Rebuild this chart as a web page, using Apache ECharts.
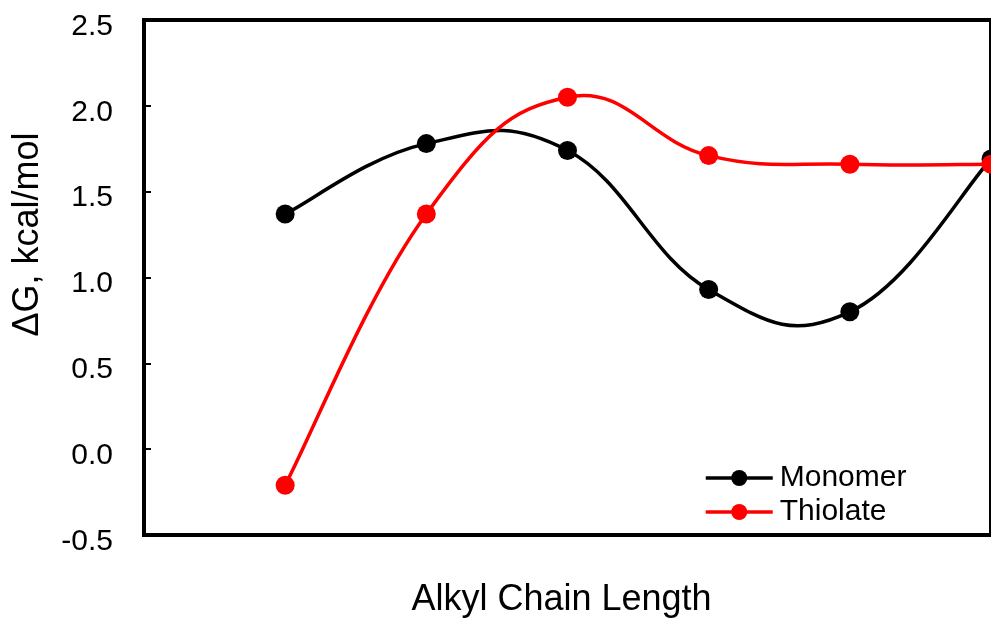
<!DOCTYPE html>
<html><head><meta charset="utf-8">
<script src="https://cdn.jsdelivr.net/npm/echarts@6/dist/echarts.min.js"></script>
<style>html,body{margin:0;padding:0;background:#fff;overflow:hidden}#c{width:991px;height:623px}</style>
</head><body><div id="c"></div>
<script>
const positions = [1, 2, 3, 4, 5, 6];
const monomer = [1.37, 1.78, 1.74, 0.93, 0.80, 1.69];
const thiolate = [-0.21, 1.37, 2.05, 1.71, 1.66, 1.66];
const yTicks = [-0.5, 0.0, 0.5, 1.0, 1.5, 2.0, 2.5];
const seriesNames = ['Monomer', 'Thiolate'];
const font = 'Liberation Sans, Arial, sans-serif';
const BLACK = '#000000', RED = '#ff0000';
const TENSION = 0.21;

function pairs(ys){ return positions.map((x,i)=>[x, ys[i]]); }

// smooth (Catmull-Rom style) curve drawn through the data points, via the axes' coordinate system
function curveSeries(values, color){
  return {
    type: 'custom', silent: true, z: 2,
    data: pairs(values),
    renderItem: function(params, api){
      const i = params.dataIndex, n = values.length;
      if (i >= n - 1) return null;
      const P = j => api.coord([positions[Math.max(0, Math.min(n-1, j))], values[Math.max(0, Math.min(n-1, j))]]);
      const p0 = P(i-1), p1 = P(i), p2 = P(i+1), p3 = P(i+2);
      return {
        type: 'bezierCurve',
        shape: {
          x1: p1[0], y1: p1[1], x2: p2[0], y2: p2[1],
          cpx1: p1[0] + (p2[0]-p0[0])*TENSION, cpy1: p1[1] + (p2[1]-p0[1])*TENSION,
          cpx2: p2[0] - (p3[0]-p1[0])*TENSION, cpy2: p2[1] - (p3[1]-p1[1])*TENSION
        },
        style: {stroke: color, lineWidth: 3.5, fill: null}
      };
    }
  };
}

const chart = echarts.init(document.getElementById('c'), null, {renderer: 'canvas'});
chart.setOption({
  animation: false,
  backgroundColor: '#fff',
  grid: {left: 144, right: 0, top: 20, height: 518, show: true, borderColor: '#000', borderWidth: 4, containLabel: false},
  xAxis: {
    type: 'value', min: 0, max: 6, interval: 1,
    name: 'Alkyl Chain Length', nameLocation: 'middle', nameGap: 47,
    nameTextStyle: {fontFamily: font, fontSize: 36, color: '#000', padding: [0, 12, 0, 0]},
    axisLine: {show: false}, axisTick: {show: false}, axisLabel: {show: false}, splitLine: {show: false}
  },
  yAxis: {
    type: 'value', min: yTicks[0], max: yTicks[yTicks.length-1], interval: 0.5,
    name: 'ΔG, kcal/mol', nameLocation: 'middle', nameGap: 98, nameRotate: 90,
    nameTextStyle: {fontFamily: font, fontSize: 36, color: '#000', padding: [0, 0, 0, 86]},
    axisLine: {show: false},
    axisTick: {show: true, inside: true, length: 7, lineStyle: {color: '#000', width: 2}},
    axisLabel: {fontFamily: font, fontSize: 30, color: '#000', margin: 31, verticalAlign: 'top', lineHeight: 13, formatter: v => v.toFixed(1)},
    splitLine: {show: false}
  },
  legend: {
    orient: 'vertical', left: 699, top: 458, itemWidth: 67, itemHeight: 20, itemGap: 4,
    textStyle: {fontFamily: font, fontSize: 30, lineHeight: 30, color: '#000', padding: [0, 0, 0, 2]},
    data: [
      {name: seriesNames[0], lineStyle: {opacity: 1, width: 3.5, color: BLACK}},
      {name: seriesNames[1], lineStyle: {opacity: 1, width: 3.5, color: RED}}
    ]
  },
  series: [
    curveSeries(monomer, BLACK),
    curveSeries(thiolate, RED),
    {name: seriesNames[0], type: 'line', data: pairs(monomer), symbol: 'circle', symbolSize: 19, z: 3,
     itemStyle: {color: BLACK}, lineStyle: {color: BLACK, width: 3.5, opacity: 0}, clip: false},
    {name: seriesNames[1], type: 'line', data: pairs(thiolate), symbol: 'circle', symbolSize: 19, z: 4,
     itemStyle: {color: RED}, lineStyle: {color: RED, width: 3.5, opacity: 0}, clip: false}
  ]
});
</script></body></html>
